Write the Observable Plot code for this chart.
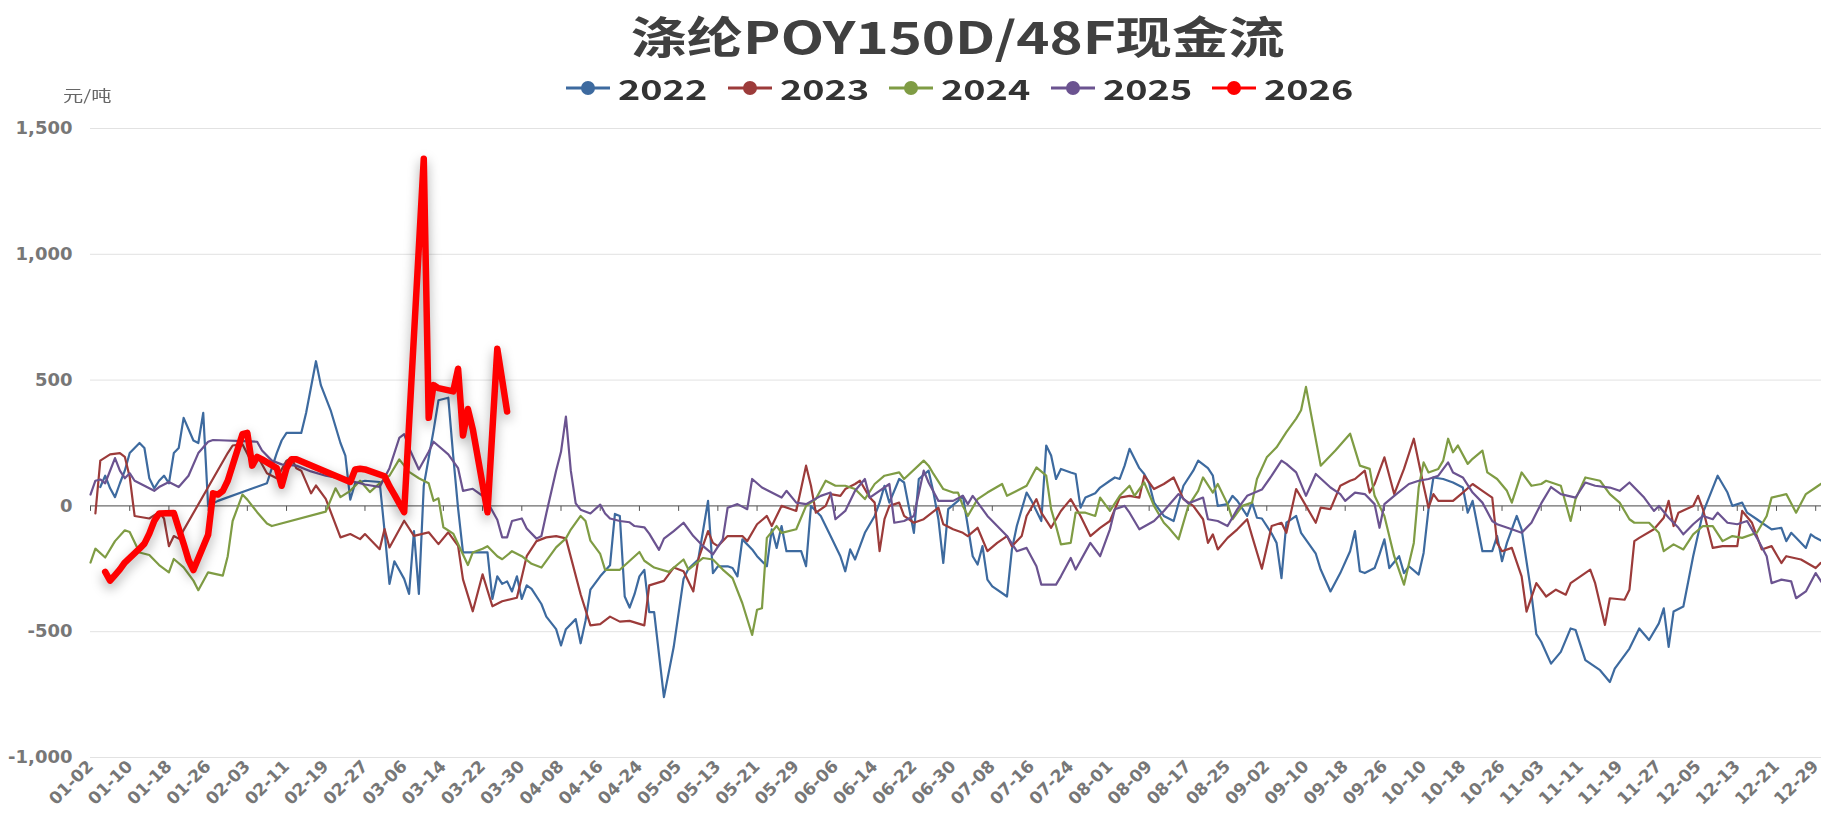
<!DOCTYPE html>
<html><head><meta charset="utf-8">
<script src="https://cdn.jsdelivr.net/npm/d3@7"></script>
<script src="https://cdn.jsdelivr.net/npm/@observablehq/plot@0.6"></script>
<style>
body{margin:0;background:#fff;}
#wrap{position:relative;width:1821px;height:815px;overflow:hidden;font-family:"Noto Sans CJK SC","Noto Sans",sans-serif;}
#chart{position:absolute;left:0;top:0;}
#title{position:absolute;left:90px;width:1735px;top:9px;text-align:center;font-size:44px;font-weight:700;color:#404040;line-height:52px;white-space:nowrap;}
#title span{display:inline-block;transform:scaleX(1.28);}
.leg{position:absolute;top:68px;height:40px;display:flex;align-items:center;white-space:nowrap;}
.leg span{font-size:28px;font-weight:700;color:#333;display:inline-block;transform:scaleX(1.35);transform-origin:left center;margin-left:8px;}
#unit{position:absolute;left:63px;top:84px;font-size:15px;color:#666;transform:scaleX(1.35);transform-origin:left center;white-space:nowrap;}
</style></head>
<body>
<div id="wrap">
  <div id="chart"></div>
  <div id="title"><span>涤纶POY150D/48F现金流</span></div>
  <div id="legendBox"></div>
  <div id="unit">元/吨</div>
</div>
<script>
// ---------- categories / ticks ----------
const skipDays = ["01-01","04-05","05-01","05-02","05-03","10-01","10-02","10-03","10-04","10-05","10-06"];
const categories = d3.timeDay.range(new Date(2024,0,1), new Date(2025,0,1))
  .map(d3.timeFormat("%m-%d")).filter(d => !skipDays.includes(d));
const tickLabels = ["01-02","01-10","01-18","01-26","02-03","02-11","02-19","02-27","03-06","03-14","03-22","03-30","04-08","04-16","04-24","05-05","05-13","05-21","05-29","06-06","06-14","06-22","06-30","07-08","07-16","07-24","08-01","08-09","08-17","08-25","09-02","09-10","09-18","09-26","10-10","10-18","10-26","11-03","11-11","11-19","11-27","12-05","12-13","12-21","12-29"];
const yTicks = [-1000,-500,0,500,1000,1500];
const years = ["2022","2023","2024","2025","2026"];
const colors = ["#3d6a9f","#9c3b3a","#7f9c44","#6b5390","#ff0000"];

// ---------- series values (MM-DD, 元/吨) ----------
const s2022 = [["01-04",75],["01-05",120],["01-06",70],["01-07",35],["01-08",90],["01-09",140],["01-10",210],["01-12",250],["01-13",230],["01-14",110],["01-15",70],["01-16",100],["01-17",120],["01-18",90],["01-19",210],["01-20",230],["01-21",350],["01-23",260],["01-24",250],["01-25",370],["01-26",0],["01-28",20],["02-07",90],["02-08",150],["02-09",210],["02-10",260],["02-11",290],["02-14",290],["02-15",370],["02-17",575],["02-18",480],["02-20",380],["02-22",250],["02-23",200],["02-24",25],["02-25",90],["02-27",100],["03-01",95],["03-02",-100],["03-03",-310],["03-04",-220],["03-06",-290],["03-07",-350],["03-08",-100],["03-09",-350],["03-10",80],["03-12",300],["03-13",420],["03-15",430],["03-16",200],["03-17",-10],["03-18",-185],["03-23",-185],["03-24",-370],["03-25",-280],["03-26",-310],["03-27",-300],["03-28",-340],["03-29",-280],["03-30",-370],["03-31",-316],["04-01",-330],["04-03",-390],["04-04",-440],["04-07",-490],["04-08",-555],["04-09",-490],["04-11",-450],["04-12",-546],["04-13",-457],["04-14",-333],["04-16",-280],["04-18",-236],["04-19",-32],["04-20",-40],["04-21",-360],["04-22",-404],["04-23",-351],["04-24",-280],["04-25",-254],["04-26",-422],["04-27",-422],["04-29",-760],["05-04",-560],["05-06",-290],["05-07",-250],["05-09",-213],["05-11",20],["05-12",-267],["05-13",-240],["05-15",-240],["05-16",-247],["05-17",-280],["05-18",-133],["05-20",-173],["05-21",-200],["05-23",-240],["05-24",-93],["05-25",-167],["05-26",-80],["05-27",-180],["05-30",-180],["05-31",-240],["06-01",0],["06-03",-40],["06-05",-120],["06-07",-200],["06-08",-260],["06-09",-173],["06-10",-213],["06-12",-107],["06-14",-40],["06-15",13],["06-16",80],["06-17",13],["06-19",107],["06-20",93],["06-22",-107],["06-23",107],["06-25",140],["06-26",53],["06-27",-53],["06-28",-227],["06-29",-13],["07-01",20],["07-02",40],["07-03",-80],["07-04",-200],["07-05",-233],["07-06",-160],["07-07",-293],["07-08",-320],["07-11",-360],["07-12",-173],["07-13",-80],["07-15",53],["07-16",20],["07-18",-60],["07-19",240],["07-20",200],["07-21",107],["07-22",147],["07-24",133],["07-25",127],["07-26",-7],["07-27",33],["07-29",50],["07-30",73],["08-01",100],["08-02",113],["08-03",107],["08-04",160],["08-05",227],["08-07",150],["08-08",127],["08-09",90],["08-10",13],["08-12",-40],["08-14",-60],["08-16",80],["08-18",140],["08-19",180],["08-21",150],["08-22",120],["08-23",0],["08-25",7],["08-26",40],["08-27",20],["08-29",-40],["08-30",13],["08-31",-47],["09-01",-50],["09-03",-110],["09-04",-147],["09-05",-287],["09-06",-67],["09-08",-40],["09-09",-107],["09-12",-190],["09-13",-253],["09-15",-340],["09-17",-267],["09-19",-180],["09-20",-100],["09-21",-260],["09-22",-267],["09-24",-247],["09-25",-193],["09-26",-133],["09-27",-247],["09-29",-200],["09-30",-267],["10-07",-240],["10-09",-273],["10-10",-187],["10-11",-13],["10-12",113],["10-14",107],["10-16",93],["10-18",73],["10-19",-27],["10-20",20],["10-22",-180],["10-24",-180],["10-25",-120],["10-26",-220],["10-27",-147],["10-29",-40],["10-30",-93],["11-01",-350],["11-02",-510],["11-03",-540],["11-05",-627],["11-07",-580],["11-09",-487],["11-10",-493],["11-12",-613],["11-15",-653],["11-17",-700],["11-18",-647],["11-21",-567],["11-23",-487],["11-25",-533],["11-27",-467],["11-28",-407],["11-29",-560],["11-30",-420],["12-02",-400],["12-04",-200],["12-06",-27],["12-09",120],["12-11",53],["12-12",0],["12-14",13],["12-15",-27],["12-17",-53],["12-18",-67],["12-20",-93],["12-22",-87],["12-23",-140],["12-24",-107],["12-25",-127],["12-27",-167],["12-28",-113],["12-29",-127],["12-31",-147]];

const s2023 = [["01-03",-30],["01-04",180],["01-06",205],["01-08",210],["01-09",195],["01-10",115],["01-11",-40],["01-14",-50],["01-16",-25],["01-17",-50],["01-18",-160],["01-19",-120],["01-20",-130],["01-30",210],["01-31",240],["02-02",245],["02-04",170],["02-05",200],["02-07",130],["02-09",110],["02-11",180],["02-12",190],["02-13",150],["02-14",140],["02-16",50],["02-17",81],["02-19",28],["02-22",-125],["02-24",-112],["02-26",-132],["02-27",-112],["03-01",-172],["03-02",-92],["03-03",-165],["03-06",-59],["03-08",-119],["03-11",-105],["03-13",-152],["03-15",-105],["03-17",-159],["03-18",-292],["03-20",-419],["03-22",-272],["03-24",-399],["03-26",-379],["03-29",-365],["03-31",-200],["04-02",-140],["04-04",-125],["04-07",-120],["04-09",-129],["04-12",-351],["04-14",-475],["04-16",-470],["04-18",-440],["04-20",-460],["04-22",-457],["04-25",-475],["04-26",-316],["04-29",-298],["05-04",-245],["05-06",-260],["05-08",-340],["05-09",-213],["05-11",-100],["05-12",-147],["05-13",-160],["05-15",-120],["05-18",-120],["05-19",-140],["05-21",-73],["05-23",-40],["05-24",-80],["05-26",0],["05-28",-13],["05-29",-20],["05-31",160],["06-01",80],["06-02",-27],["06-04",0],["06-05",47],["06-07",40],["06-08",67],["06-10",87],["06-11",100],["06-13",33],["06-14",13],["06-15",-180],["06-16",-53],["06-17",0],["06-19",13],["06-20",-40],["06-22",-67],["06-24",-53],["06-27",-7],["06-28",-73],["06-30",-93],["07-02",-107],["07-03",-120],["07-05",-87],["07-07",-180],["07-09",-147],["07-11",-120],["07-12",-160],["07-14",-120],["07-15",-40],["07-17",27],["07-18",-27],["07-20",-87],["07-22",-20],["07-24",27],["07-26",-40],["07-28",-120],["07-30",-87],["08-01",-60],["08-03",33],["08-05",40],["08-07",33],["08-08",120],["08-10",67],["08-12",87],["08-14",113],["08-16",27],["08-18",0],["08-20",-53],["08-21",-147],["08-22",-113],["08-23",-173],["08-25",-127],["08-27",-93],["08-29",-53],["08-30",-120],["09-01",-250],["09-03",-80],["09-05",-67],["09-06",-107],["09-08",67],["09-10",0],["09-12",-67],["09-13",-7],["09-15",-13],["09-17",80],["09-19",100],["09-20",107],["09-22",140],["09-23",53],["09-24",87],["09-25",140],["09-26",193],["09-28",47],["09-30",147],["10-08",267],["10-10",80],["10-11",-7],["10-12",47],["10-13",20],["10-16",20],["10-18",53],["10-20",87],["10-22",60],["10-24",33],["10-25",-147],["10-26",-180],["10-28",-167],["10-30",-280],["10-31",-420],["11-02",-307],["11-04",-360],["11-06",-333],["11-08",-353],["11-09",-307],["11-11",-280],["11-13",-253],["11-14",-307],["11-16",-473],["11-17",-367],["11-20",-373],["11-21",-333],["11-22",-140],["11-23",-127],["11-26",-93],["11-28",-47],["11-29",20],["11-30",-80],["12-01",-27],["12-04",0],["12-05",40],["12-06",-13],["12-08",-167],["12-10",-160],["12-13",-160],["12-14",-20],["12-16",-67],["12-18",-173],["12-20",-160],["12-22",-227],["12-23",-200],["12-26",-213],["12-29",-247],["12-30",-227]];

const s2024 = [["01-02",-225],["01-03",-170],["01-05",-205],["01-07",-140],["01-09",-97],["01-10",-104],["01-12",-185],["01-14",-195],["01-16",-235],["01-18",-264],["01-19",-211],["01-21",-244],["01-23",-297],["01-24",-335],["01-26",-264],["01-29",-277],["01-30",-200],["01-31",-60],["02-02",45],["02-03",25],["02-05",-25],["02-07",-70],["02-08",-80],["02-19",-23],["02-21",70],["02-22",35],["02-24",60],["02-26",100],["02-28",55],["03-01",90],["03-03",120],["03-05",185],["03-07",135],["03-09",110],["03-11",90],["03-12",20],["03-13",30],["03-14",-85],["03-16",-110],["03-19",-235],["03-20",-185],["03-22",-170],["03-23",-160],["03-25",-200],["03-26",-212],["03-28",-180],["03-30",-200],["04-01",-230],["04-03",-245],["04-07",-165],["04-09",-129],["04-10",-94],["04-12",-40],["04-13",-60],["04-14",-138],["04-16",-191],["04-17",-254],["04-20",-254],["04-24",-183],["04-25",-218],["04-27",-245],["04-30",-262],["05-06",-213],["05-07",-253],["05-10",-207],["05-12",-213],["05-14",-253],["05-16",-287],["05-18",-387],["05-20",-513],["05-21",-413],["05-22",-407],["05-23",-127],["05-25",-80],["05-26",-107],["05-29",-93],["05-31",0],["06-02",27],["06-04",100],["06-06",80],["06-08",80],["06-10",67],["06-12",27],["06-14",87],["06-16",120],["06-19",133],["06-20",107],["06-24",180],["06-25",160],["06-26",127],["06-28",67],["06-30",53],["07-01",53],["07-02",0],["07-03",-40],["07-05",27],["07-07",53],["07-10",87],["07-11",40],["07-15",80],["07-17",153],["07-19",120],["07-20",-13],["07-21",-80],["07-22",-153],["07-24",-147],["07-25",-27],["07-27",-27],["07-29",-40],["07-30",33],["08-01",-20],["08-03",40],["08-05",80],["08-06",40],["08-08",93],["08-10",0],["08-12",-67],["08-13",-87],["08-15",-133],["08-17",0],["08-19",60],["08-20",113],["08-22",53],["08-23",87],["08-25",7],["08-26",-53],["08-28",0],["08-30",13],["08-31",107],["09-02",193],["09-04",233],["09-06",293],["09-08",347],["09-09",380],["09-10",473],["09-13",160],["09-16",220],["09-19",287],["09-21",160],["09-23",147],["09-24",40],["09-26",-40],["09-28",-200],["09-30",-313],["10-08",-147],["10-09",73],["10-10",173],["10-11",133],["10-13",147],["10-14",180],["10-15",267],["10-16",213],["10-17",240],["10-19",167],["10-20",187],["10-22",220],["10-23",133],["10-25",107],["10-27",60],["10-28",13],["10-30",133],["11-01",80],["11-03",87],["11-04",100],["11-07",80],["11-09",-60],["11-10",27],["11-12",113],["11-15",100],["11-17",47],["11-19",13],["11-21",-53],["11-22",-67],["11-25",-67],["11-27",-107],["11-28",-180],["11-30",-153],["12-02",-173],["12-04",-113],["12-06",-80],["12-08",-80],["12-10",-140],["12-12",-120],["12-14",-127],["12-17",-107],["12-19",-40],["12-20",33],["12-23",47],["12-25",-27],["12-27",47],["12-29",73],["12-31",100]];

const s2025 = [["01-02",45],["01-03",100],["01-04",105],["01-05",90],["01-07",190],["01-08",140],["01-09",110],["01-10",130],["01-11",100],["01-13",80],["01-15",60],["01-16",75],["01-18",95],["01-19",85],["01-20",75],["01-22",120],["01-24",210],["01-26",255],["01-27",262],["02-05",255],["02-06",220],["02-08",180],["02-10",165],["02-13",160],["02-16",137],["02-19",120],["02-23",105],["02-27",85],["03-01",75],["03-03",150],["03-05",270],["03-06",285],["03-07",230],["03-09",145],["03-11",215],["03-12",255],["03-15",205],["03-17",150],["03-18",60],["03-20",68],["03-22",40],["03-23",15],["03-25",-55],["03-26",-125],["03-27",-125],["03-28",-60],["03-30",-50],["03-31",-90],["04-02",-130],["04-03",-120],["04-04",-30],["04-07",140],["04-08",215],["04-09",355],["04-10",140],["04-11",10],["04-12",-15],["04-14",-30],["04-16",5],["04-17",-30],["04-18",-50],["04-20",-60],["04-22",-65],["04-23",-80],["04-25",-85],["04-26",-110],["04-28",-175],["04-29",-130],["05-04",-100],["05-06",-67],["05-08",-120],["05-10",-160],["05-12",-193],["05-14",-133],["05-15",-7],["05-17",7],["05-19",-13],["05-20",107],["05-22",73],["05-24",53],["05-26",33],["05-27",60],["05-29",13],["05-31",7],["06-03",40],["06-05",53],["06-06",-53],["06-08",-20],["06-10",60],["06-12",107],["06-13",33],["06-17",87],["06-18",-67],["06-20",-60],["06-22",-40],["06-24",140],["06-25",93],["06-27",20],["06-30",20],["07-02",40],["07-03",7],["07-04",40],["07-06",-13],["07-07",-40],["07-11",-120],["07-13",-180],["07-15",-167],["07-17",-240],["07-18",-313],["07-21",-313],["07-22",-280],["07-24",-207],["07-25",-253],["07-28",-147],["07-30",-200],["08-01",-93],["08-02",-13],["08-04",0],["08-05",-27],["08-07",-93],["08-10",-60],["08-12",-20],["08-15",47],["08-17",10],["08-20",33],["08-21",-53],["08-23",-60],["08-25",-80],["08-27",-13],["08-29",40],["09-01",65],["09-03",120],["09-05",180],["09-06",167],["09-08",133],["09-10",40],["09-12",127],["09-15",73],["09-17",47],["09-18",20],["09-20",53],["09-22",47],["09-24",7],["09-25",-87],["09-26",7],["09-28",40],["10-07",87],["10-09",100],["10-11",107],["10-13",120],["10-15",173],["10-16",133],["10-18",113],["10-20",53],["10-22",13],["10-24",-60],["10-25",-73],["10-28",-93],["10-30",-107],["11-01",-67],["11-03",10],["11-05",75],["11-07",47],["11-10",33],["11-12",93],["11-14",80],["11-17",73],["11-19",60],["11-21",93],["11-24",33],["11-26",-20],["11-27",0],["11-29",-47],["12-01",-87],["12-02",-113],["12-04",-73],["12-06",-40],["12-08",-53],["12-09",-27],["12-11",-67],["12-13",-73],["12-15",-60],["12-17",-127],["12-19",-200],["12-20",-307],["12-22",-293],["12-24",-300],["12-25",-367],["12-27",-340],["12-29",-267],["12-31",-327]];

const s2026 = [["01-05",-262],["01-06",-297],["01-07",-275],["01-08",-252],["01-09",-225],["01-12",-170],["01-13",-150],["01-14",-110],["01-15",-60],["01-16",-30],["01-19",-28],["01-20",-90],["01-21",-150],["01-22",-215],["01-23",-255],["01-26",-115],["01-27",50],["01-28",45],["01-29",60],["01-30",100],["02-02",285],["02-03",290],["02-04",160],["02-05",195],["02-06",185],["02-09",150],["02-10",80],["02-11",150],["02-12",185],["02-13",185],["02-24",95],["02-25",145],["02-26",148],["02-27",145],["03-02",118],["03-03",78],["03-04",45],["03-05",10],["03-06",-25],["03-10",1380],["03-11",350],["03-12",480],["03-13",468],["03-16",455],["03-17",545],["03-18",280],["03-19",385],["03-20",305],["03-23",-25],["03-25",625],["03-26",500],["03-27",375]];

const seriesList = [s2022, s2023, s2024, s2025, s2026];

// ---------- chart ----------
const tickSymbol = {draw(ctx, size) { ctx.moveTo(0, 0); ctx.lineTo(0, 5); }};

const lineMarks = seriesList.map((s, i) =>
  Plot.line(s, {x: d => d[0], y: d => d[1], stroke: colors[i], strokeWidth: i === 4 ? 6.5 : 2.2,
    strokeLinejoin: "round", strokeLinecap: "round"}));

const chart = Plot.plot({
  width: 1821, height: 815,
  marginTop: 128, marginBottom: 58, marginLeft: 90, marginRight: -4,
  style: {fontFamily: "'DejaVu Sans', sans-serif", fontWeight: "bold", color: "#777", background: "transparent"},
  x: {type: "point", domain: categories, padding: 0},
  y: {domain: [-1000, 1500]},
  marks: [
    Plot.gridY(yTicks, {stroke: "#e2e2e2", strokeOpacity: 1, strokeWidth: 1}),
    Plot.axisY(yTicks, {tickSize: 0, tickPadding: 18, fontSize: 18, tickFormat: d => d.toLocaleString("en-US"), label: null}),
    Plot.axisX(tickLabels, {tickSize: 0, tickPadding: 6, tickRotate: -45, fontSize: 17, label: null}),
    Plot.ruleY([0], {stroke: "#555", strokeWidth: 1}),
    Plot.dot(tickLabels, {x: d => d, y: 0, symbol: tickSymbol, stroke: "#555", strokeWidth: 1, fill: "none"}),
    ...lineMarks
  ]
});
document.getElementById("chart").appendChild(chart);
const lineGroups = chart.querySelectorAll('g[aria-label="line"]');
if (lineGroups.length) lineGroups[lineGroups.length - 1].style.filter = "drop-shadow(0px 5px 6px rgba(0,0,0,0.35))";

// ---------- legend ----------
const legendBox = document.getElementById("legendBox");
years.forEach((y, i) => {
  const item = document.createElement("div");
  item.className = "leg";
  item.style.left = (566 + i * 161.5) + "px";
  item.innerHTML = `<svg width="44" height="20"><line x1="0" y1="10" x2="44" y2="10" stroke="${colors[i]}" stroke-width="3"/><circle cx="22" cy="10" r="7" fill="${colors[i]}"/></svg><span>${y}</span>`;
  legendBox.appendChild(item);
});
</script>
</body></html>
